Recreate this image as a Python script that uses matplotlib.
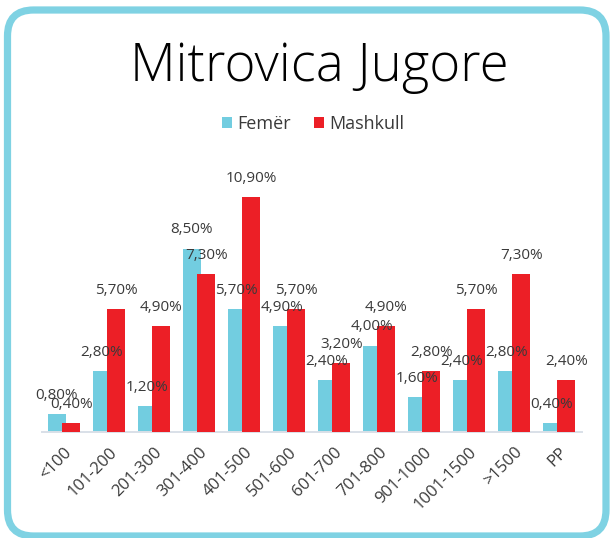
import numpy as np
import matplotlib
matplotlib.use("Agg")
import matplotlib.pyplot as plt
from matplotlib.patches import FancyBboxPatch, Patch

plt.rcParams['font.family'] = ['Open Sans', 'DejaVu Sans']

# të dhënat
kategorite = ['<100', '101-200', '201-300', '301-400', '401-500', '501-600',
              '601-700', '701-800', '901-1000', '1001-1500', '>1500', 'PP']
femer = [0.8, 2.8, 1.2, 8.5, 5.7, 4.9, 2.4, 4.0, 1.6, 2.4, 2.8, 0.4]
mashkull = [0.4, 5.7, 4.9, 7.3, 10.9, 5.7, 3.2, 4.9, 2.8, 5.7, 7.3, 2.4]

c_fem = '#72CDE0'
c_mash = '#EC1F26'
c_text = '#3a3a3a'

W, H = 610, 538
fig = plt.figure(figsize=(W / 100, H / 100), dpi=100)

# korniza me qoshe te rrumbullakta
bg = fig.add_axes([0, 0, 1, 1])
bg.set_xlim(0, W)
bg.set_ylim(H, 0)
bg.axis('off')
bg.add_patch(FancyBboxPatch((7.5, 10), 598.5, 526, boxstyle="round,pad=0,rounding_size=26",
                            facecolor='white', edgecolor='#7FD2E3', linewidth=5.2))

# boshti kryesor
left, right = 41.5, 581.5
base, top = 431.7, 170
ax = fig.add_axes([left / W, 1 - base / H, (right - left) / W, (base - top) / H])
ax.set_facecolor('none')
ppp = 21.55  # piksel per %
ax.set_ylim(0, (base - top) / ppp)
ax.set_xlim(-0.5, len(kategorite) - 0.5)

x = np.arange(len(kategorite))
w = 0.4
ax.bar(x - 0.16, femer, w, color=c_fem, zorder=2)
ax.bar(x + 0.16, mashkull, w, color=c_mash, zorder=3)

def etiketa(v):
    return f"{v:.2f}".replace('.', ',') + '%'

for xi, v in zip(x - 0.16, femer):
    ax.annotate(etiketa(v), xy=(xi, v), xytext=(0, 8), textcoords='offset points',
                ha='center', va='bottom', fontsize=11, color=c_text, zorder=5)
for xi, v in zip(x + 0.16, mashkull):
    ax.annotate(etiketa(v), xy=(xi, v), xytext=(0, 8), textcoords='offset points',
                ha='center', va='bottom', fontsize=11, color=c_text, zorder=5)

for s in ['top', 'right', 'left']:
    ax.spines[s].set_visible(False)
ax.spines['bottom'].set_color('#D9E0E8')
ax.spines['bottom'].set_linewidth(1.4)
ax.set_yticks([])
ax.set_xticks(x)
ax.set_xticklabels(kategorite, rotation=45, ha='right', rotation_mode='anchor',
                   fontsize=12, color=c_text)
ax.tick_params(axis='x', length=0, pad=9)

fig.text(319 / W, 1 - 81 / H, 'Mitrovica Jugore', ha='center', va='baseline',
         fontsize=38, color='black', fontweight='light')

handles = [Patch(facecolor=c_fem, edgecolor='none'), Patch(facecolor=c_mash, edgecolor='none')]
fig.legend(handles, ['Femër', 'Mashkull'], loc='center', bbox_to_anchor=(313 / W, 1 - 124 / H),
           ncol=2, frameon=False, fontsize=13, handlelength=0.55, handleheight=0.55,
           handletextpad=0.3, columnspacing=1.3, labelcolor=c_text)

fig.savefig('out.png', dpi=100)
